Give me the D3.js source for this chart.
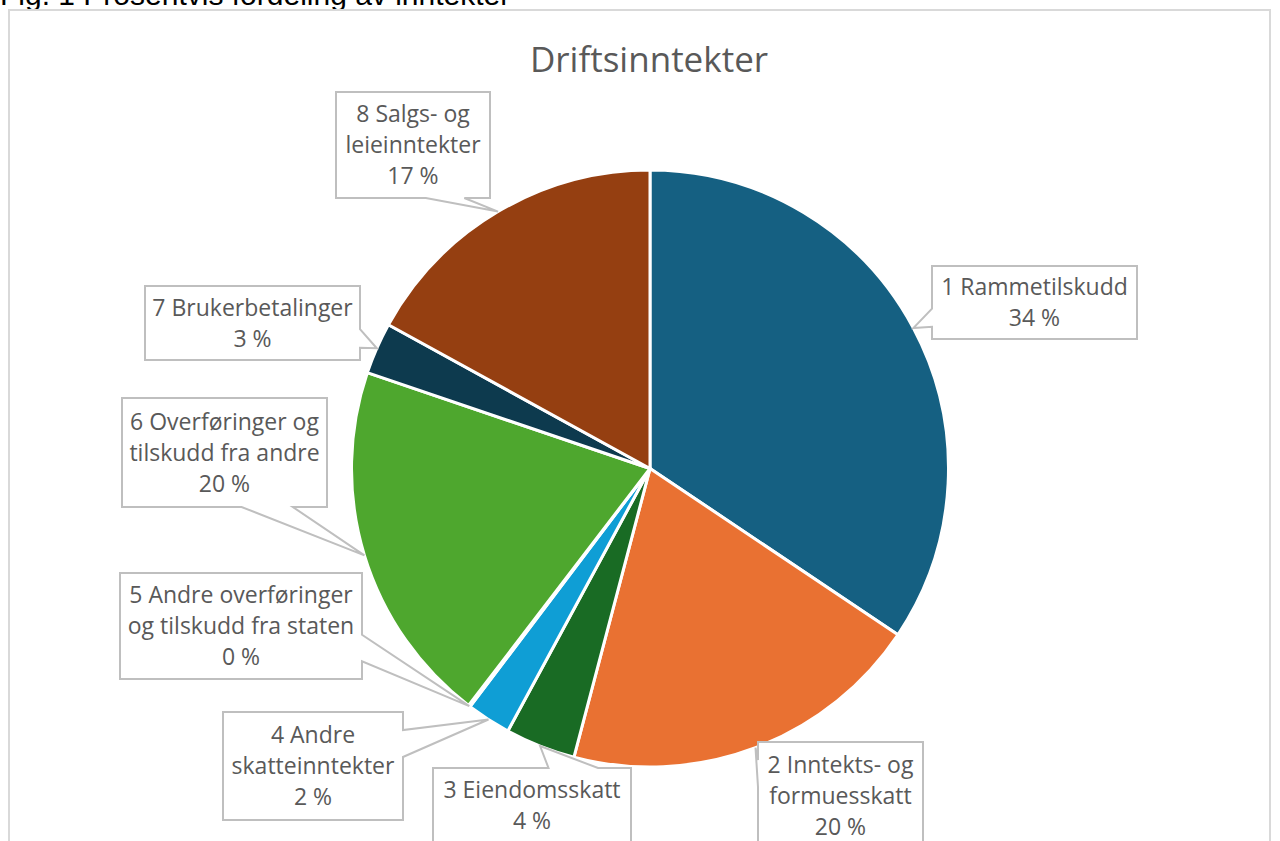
<!DOCTYPE html>
<html lang="no">
	<head>
		<meta charset="utf-8">
		<style type="text/css">
			html, body {
				width: 100%;
				height: 100%;
				padding: 0;
				margin: 0;
				background: #fff;
				overflow: hidden;
			}
			text {
				font-family: "Open Sans", "Noto Sans", sans-serif;
				fill: #595959;
			}
			.caption {
				font-family: "Liberation Sans", Arial, sans-serif;
				fill: #000;
			}
		</style>
	</head>
	<body>
		<svg></svg>
	<script src="https://cdn.jsdelivr.net/npm/d3@7"></script>
	<script>
		const width = 1280
		const height = 841

		// data
		const categories = [
			"1 Rammetilskudd",
			"2 Inntekts- og formuesskatt",
			"3 Eiendomsskatt",
			"4 Andre skatteinntekter",
			"5 Andre overføringer og tilskudd fra staten",
			"6 Overføringer og tilskudd fra andre",
			"7 Brukerbetalinger",
			"8 Salgs- og leieinntekter"
		]
		const values = [34.4, 19.7, 3.8, 2.4, 0.1, 19.8, 2.8, 17.0]
		const colors = ["#156082", "#e97132", "#196b24", "#0f9ed5", "#a02b93", "#4ea72e", "#0d3a4e", "#953f11"]

		// callout boxes (x, y, w, h) as placed in the original
		const boxes = [
			[932, 266, 205, 73],
			[758, 742, 165, 108],
			[433, 768, 198, 74],
			[223, 712, 180, 108],
			[120, 573, 242, 106],
			[122, 398, 205, 109],
			[145, 286, 215, 74],
			[336, 92, 154, 106]
		]

		const cx = 650, cy = 468.5, radius = 298.5
		const fontSize = 23
		const lineGap = 31

		const svg = d3.select("svg")
			.attr("width", width)
			.attr("height", height)

		// caption above the chart frame (cut by the top edge)
		svg.append("text")
			.attr("class", "caption")
			.attr("x", 0)
			.attr("y", 5)
			.style("font-size", "30px")
			.text("Fig. 1 Prosentvis fordeling av inntekter")

		svg.append("rect")
			.attr("x", 9)
			.attr("y", 10)
			.attr("width", 1261)
			.attr("height", 900)
			.attr("fill", "#fff")
			.attr("stroke", "#d9d9d9")
			.attr("stroke-width", 2)

		svg.append("text")
			.attr("x", 649)
			.attr("y", 72)
			.attr("text-anchor", "middle")
			.style("font-size", "35px")
			.text("Driftsinntekter")

		const pie = d3.pie()
			.sort(null)
			.value(d => d)
		const arcs = pie(values)

		const arc = d3.arc()
			.innerRadius(0)
			.outerRadius(radius)

		const g = svg.append("g")
			.attr("transform", `translate(${cx}, ${cy})`)

		g.selectAll("path")
			.data(arcs)
			.enter().append("path")
			.attr("d", arc)
			.attr("fill", (d, i) => colors[i])
			.attr("stroke", "#fff")
			.attr("stroke-width", 3)
			.attr("stroke-linejoin", "round")

		// excel style wedgeRectCallout
		function callout (x, y, w, h, tx, ty) {
			const l = x, t = y, r = x + w, b = y + h
			const dx = tx - (x + w / 2), dy = ty - (y + h / 2)
			const dz = Math.abs(dy) - Math.abs(dx * h / w)
			const x1 = l + w * (dx > 0 ? 7 : 2) / 12, x2 = l + w * (dx > 0 ? 10 : 5) / 12
			const y1 = t + h * (dy > 0 ? 7 : 2) / 12, y2 = t + h * (dy > 0 ? 10 : 5) / 12
			const p = d3.path()
			p.moveTo(l, t)
			if (dz > 0 && dy < 0) { p.lineTo(x1, t); p.lineTo(tx, ty); p.lineTo(x2, t) }
			p.lineTo(r, t)
			if (dz <= 0 && dx > 0) { p.lineTo(r, y1); p.lineTo(tx, ty); p.lineTo(r, y2) }
			p.lineTo(r, b)
			if (dz > 0 && dy > 0) { p.lineTo(x2, b); p.lineTo(tx, ty); p.lineTo(x1, b) }
			p.lineTo(l, b)
			if (dz <= 0 && dx < 0) { p.lineTo(l, y2); p.lineTo(tx, ty); p.lineTo(l, y1) }
			p.closePath()
			return p.toString()
		}

		// word wrap to the box width using a measuring node
		const meas = svg.append("text").style("font-size", fontSize + "px")
		function wrap (str, maxW) {
			const words = str.split(" ")
			const lines = []
			let cur = ""
			words.forEach(wd => {
				const tryS = cur ? cur + " " + wd : wd
				meas.text(tryS)
				if (cur && meas.node().getComputedTextLength() > maxW) {
					lines.push(cur)
					cur = wd
				} else {
					cur = tryS
				}
			})
			lines.push(cur)
			return lines
		}

		const total = d3.sum(values)

		const labels = svg.append("g")
		arcs.forEach((a, i) => {
			const [bx, by, bw, bh] = boxes[i]
			const mid = (a.startAngle + a.endAngle) / 2
			const tx = cx + radius * Math.sin(mid)
			const ty = cy - radius * Math.cos(mid)

			labels.append("path")
				.attr("d", callout(bx, by, bw, bh, tx, ty))
				.attr("fill", "#fff")
				.attr("stroke", "#bfbfbf")
				.attr("stroke-width", 2)
				.attr("stroke-linejoin", "miter")

			const lines = wrap(categories[i], bw - 6)
			lines.push(Math.round(values[i] / total * 100) + " %")

			const top = by + bh / 2 - (lines.length - 1) * lineGap / 2
			const t = labels.append("text")
				.attr("text-anchor", "middle")
				.style("font-size", fontSize + "px")
			lines.forEach((ln, k) => {
				t.append("tspan")
					.attr("x", bx + bw / 2)
					.attr("y", top + k * lineGap)
					.attr("dy", "0.36em")
					.text(ln)
			})
		})
		meas.remove()
	</script>
	</body>
</html>
